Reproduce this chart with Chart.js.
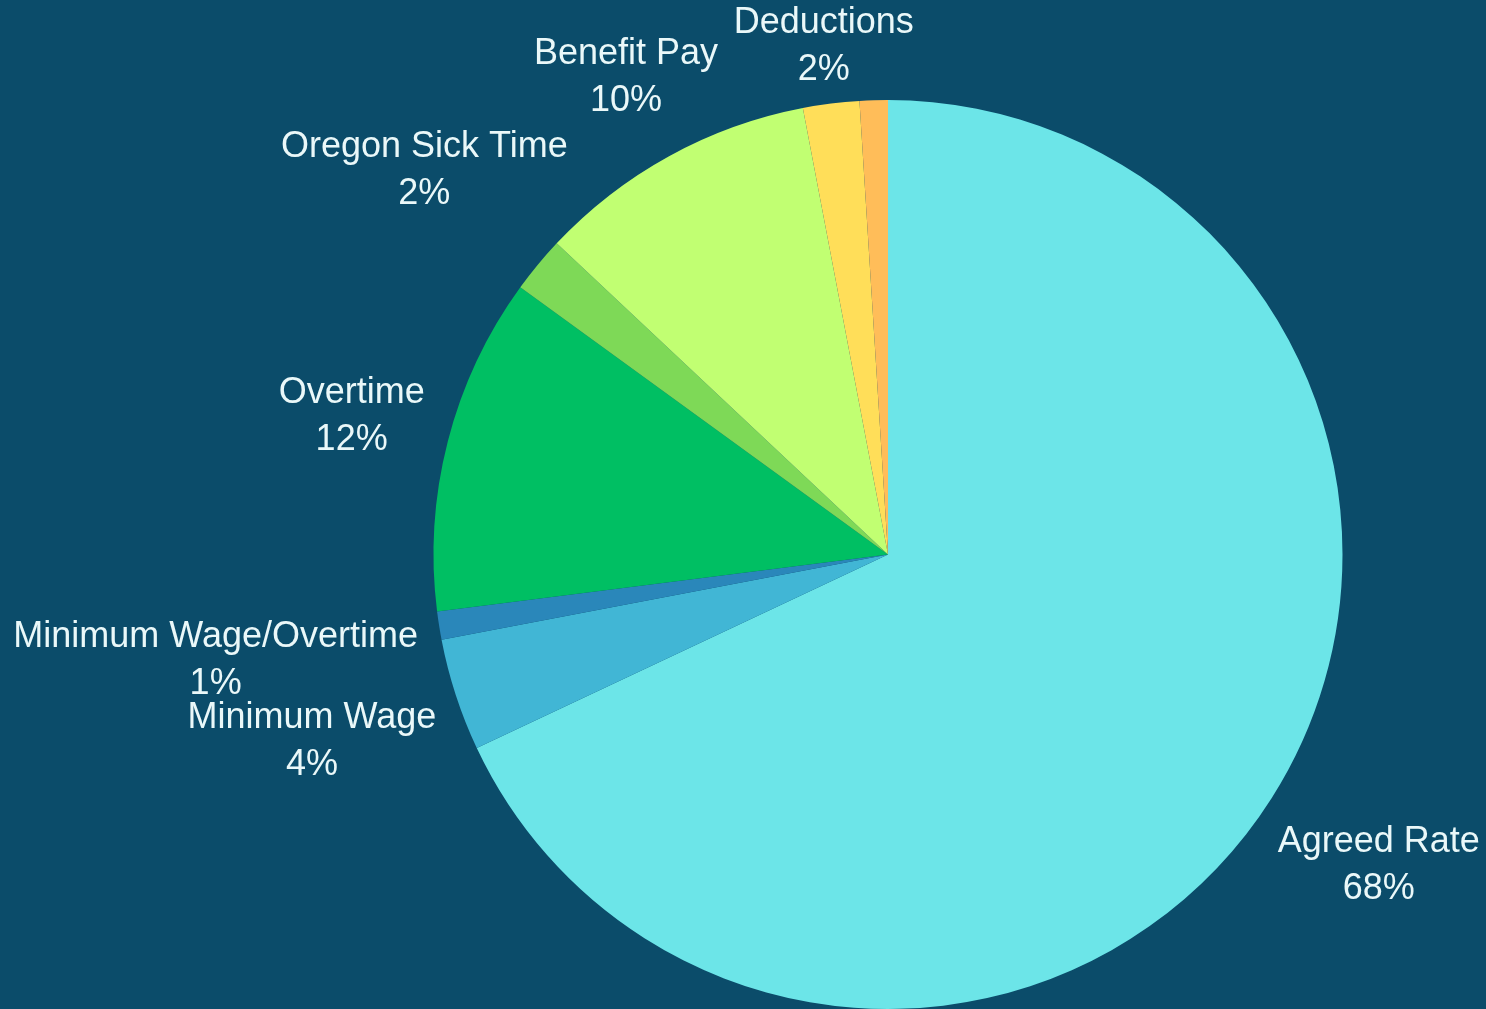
<!DOCTYPE html>
<html>
<head>
<meta charset="utf-8">
<title>Claims by wage type</title>
<script src="https://cdn.jsdelivr.net/npm/chart.js@4.4.1/dist/chart.umd.min.js"></script>
<style>
  html, body { margin: 0; padding: 0; background: #0b4c6a; }
  #wrap { width: 1486px; height: 1009px; position: relative; }
</style>
</head>
<body>
<div id="wrap"><canvas id="wage-pie"></canvas></div>
<script>
// ── Data ──
const categories = [
  'Agreed Rate', 'Minimum Wage', 'Minimum Wage/Overtime', 'Overtime',
  'Oregon Sick Time', 'Benefit Pay', 'Deductions', 'Other'
];
const shares = [68, 4, 1, 12, 2, 10, 2, 1];
const sliceColors = [
  '#6ce5e8', '#41b6d5', '#2a87ba', '#00bf63',
  '#7ed957', '#c1ff72', '#ffde59', '#ffbd59'
];

// ── Label styling ──
const LABEL_FONT = '36px "Liberation Sans", Arial, sans-serif';
const LABEL_COLOR = '#eaf8f9';
const LINE_H = 47;
const GAP = 20;    // clearance between the label's ink box and the pie edge

// Labels sit on each slice's mid-angle ray, pushed out just far enough for the
// text's ink box to clear the circle. A label that would collide with one
// already drawn is dropped.
const outsideLabels = {
  id: 'outsideLabels',
  afterDatasetsDraw(chart) {
    const ctx = chart.ctx;
    const meta = chart.getDatasetMeta(0);
    const total = shares.reduce((a, b) => a + b, 0);
    const placed = [];
    ctx.save();
    ctx.font = LABEL_FONT;
    ctx.fillStyle = LABEL_COLOR;
    ctx.textAlign = 'center';
    ctx.textBaseline = 'middle';
    meta.data.forEach((arc, i) => {
      const { x, y, startAngle, endAngle, outerRadius } =
        arc.getProps(['x', 'y', 'startAngle', 'endAngle', 'outerRadius'], true);
      const mid = (startAngle + endAngle) / 2;
      const lines = [categories[i], Math.round(shares[i] / total * 100) + '%'];
      const metrics = lines.map(t => ctx.measureText(t));
      const w = Math.max(...metrics.map(m => m.width));
      const lineY = lines.map((_, k) => (k - (lines.length - 1) / 2) * LINE_H);
      // ink extents relative to the label centre
      const top = lineY[0] - metrics[0].actualBoundingBoxAscent;
      const bottom = lineY[lines.length - 1] + metrics[lines.length - 1].actualBoundingBoxDescent;
      const ux = Math.cos(mid), uy = Math.sin(mid);
      let bx = x, by = y;
      for (let d = outerRadius * 0.5; d < outerRadius * 3; d += 0.5) {
        bx = x + ux * d;
        by = y + uy * d;
        const nx = Math.max(bx - w / 2, Math.min(x, bx + w / 2));
        const ny = Math.max(by + top, Math.min(y, by + bottom));
        if (Math.hypot(nx - x, ny - y) >= outerRadius + GAP) break;
      }
      const box = { l: bx - w / 2, r: bx + w / 2, t: by + top, b: by + bottom };
      if (placed.some(p => box.l < p.r && box.r > p.l && box.t < p.b && box.b > p.t)) return;
      placed.push(box);
      lines.forEach((t, k) => ctx.fillText(t, bx, by + lineY[k]));
    });
    ctx.restore();
  }
};

new Chart(document.getElementById('wage-pie'), {
  type: 'pie',
  data: {
    labels: categories,
    datasets: [{
      data: shares,
      backgroundColor: sliceColors,
      borderWidth: 0,
      hoverOffset: 0
    }]
  },
  options: {
    responsive: true,
    maintainAspectRatio: false,
    animation: false,
    layout: { padding: { left: 433, right: 143, top: 100, bottom: 0 } },
    plugins: {
      legend: { display: false },
      tooltip: { enabled: false }
    }
  },
  plugins: [outsideLabels]
});
</script>
</body>
</html>
